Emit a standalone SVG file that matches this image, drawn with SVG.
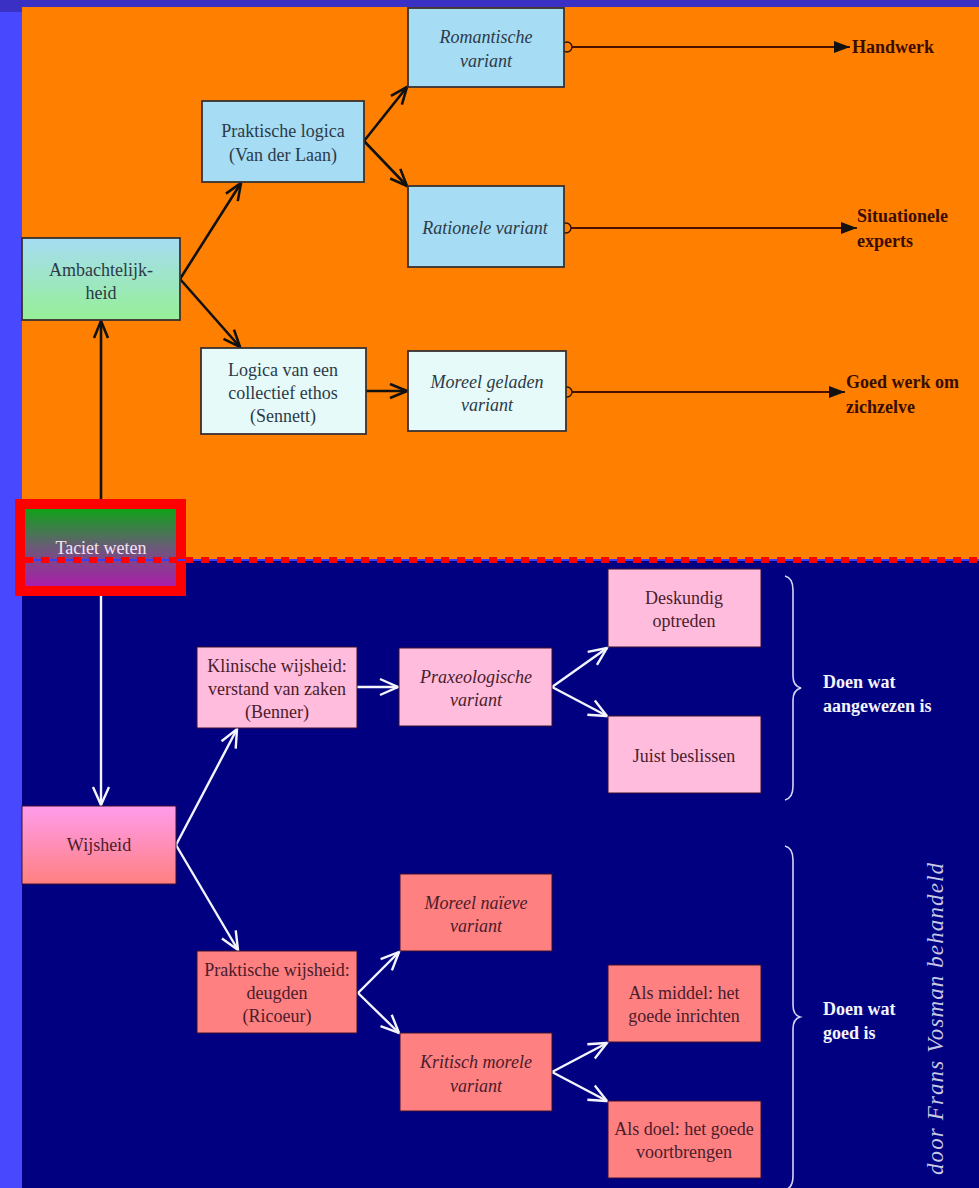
<svg xmlns="http://www.w3.org/2000/svg" width="979" height="1188" viewBox="0 0 979 1188">
<style>
.t{font-family:"Liberation Serif","Times New Roman",serif;font-size:18px;text-anchor:middle}
.it{font-style:italic}
.dk{fill:#2c3a48}
.pk{fill:#4a1c2c}
.lab{font-family:"Liberation Serif","Times New Roman",serif;font-size:18px;font-weight:bold}
.lo{fill:#3a0c00}
.lw{fill:#f4f4ff}
.bt{stroke:#3a3030;stroke-width:1.8}
.bb{stroke:#3a1030;stroke-width:1}
.ca{stroke:#111;stroke-width:2.6;fill:none;marker-end:url(#ob)}
.cw{stroke:#f4f4ff;stroke-width:2.4;fill:none;marker-end:url(#ow)}
.co{stroke:#4a1000;stroke-width:1.8;fill:none;marker-end:url(#tri)}
.dot{fill:none;stroke:#2a1000;stroke-width:1.4}
.br{fill:none;stroke:#d4d4f4;stroke-width:1.6}
</style>
<defs>
<marker id="ob" viewBox="-2 -2 22 18" refX="17" refY="7" markerWidth="22" markerHeight="18" orient="auto" markerUnits="userSpaceOnUse"><path d="M0,0 L17,7 L0,14" fill="none" stroke="#111" stroke-width="2.6" stroke-linejoin="miter"/></marker>
<marker id="ow" viewBox="-2 -2 23 20" refX="18" refY="8" markerWidth="23" markerHeight="20" orient="auto" markerUnits="userSpaceOnUse"><path d="M0,0 L18,8 L0,16" fill="none" stroke="#f4f4ff" stroke-width="2.4"/></marker>
<marker id="tri" viewBox="0 0 16 12" refX="16" refY="6" markerWidth="16" markerHeight="12" orient="auto" markerUnits="userSpaceOnUse"><path d="M0,0 L16,6 L0,12 Z" fill="#111"/></marker>
<linearGradient id="gAmb" x1="0" y1="0" x2="0" y2="1"><stop offset="0" stop-color="#a6dcf4"/><stop offset="1" stop-color="#96f096"/></linearGradient>
<linearGradient id="gTac" x1="0" y1="0" x2="0" y2="1"><stop offset="0" stop-color="#10a218"/><stop offset="0.5" stop-color="#6a5a78"/><stop offset="1" stop-color="#aa1eaa"/></linearGradient>
<linearGradient id="gWij" x1="0" y1="0" x2="0" y2="1"><stop offset="0" stop-color="#ff9cec"/><stop offset="1" stop-color="#ff8080"/></linearGradient>
</defs>
<g id="background">
<rect x="0" y="0" width="979" height="1188" fill="#4848ff"/>
<rect x="0" y="0" width="979" height="7" fill="#3a30c4"/>
<rect x="0" y="0" width="22" height="12" fill="#3a30c4"/>
<rect x="22" y="7" width="957" height="553" fill="#ff8000"/>
<rect x="22" y="560" width="957" height="628" fill="#000080"/>
</g>
<g id="connectors">
<line class="ca" x1="101" y1="499" x2="101" y2="321"/>
<line class="ca" x1="180" y1="279" x2="241" y2="183"/>
<line class="ca" x1="180" y1="279" x2="240" y2="347"/>
<line class="ca" x1="364" y1="141" x2="407" y2="87"/>
<line class="ca" x1="364" y1="141" x2="407" y2="186"/>
<line class="ca" x1="366" y1="391" x2="407" y2="391"/>
<line class="co" x1="572" y1="47" x2="850" y2="47"/>
<circle class="dot" cx="567" cy="47" r="5"/>
<line class="co" x1="571" y1="228" x2="857" y2="228"/>
<circle class="dot" cx="566" cy="228" r="5"/>
<line class="co" x1="572" y1="392" x2="845" y2="392"/>
<circle class="dot" cx="567" cy="392" r="5"/>
<line class="cw" x1="101" y1="596" x2="101" y2="805"/>
<line class="cw" x1="176" y1="845" x2="237" y2="729"/>
<line class="cw" x1="176" y1="845" x2="238" y2="950"/>
<line class="cw" x1="357" y1="687" x2="398" y2="687"/>
<line class="cw" x1="552" y1="687" x2="607" y2="648"/>
<line class="cw" x1="552" y1="687" x2="607" y2="716"/>
<line class="cw" x1="358" y1="993" x2="399" y2="952"/>
<line class="cw" x1="358" y1="993" x2="399" y2="1033"/>
<line class="cw" x1="552" y1="1072" x2="607" y2="1043"/>
<line class="cw" x1="552" y1="1072" x2="607" y2="1101"/>
</g>
<g id="ambachtelijkheid">
<rect class="bt" x="22" y="238" width="158" height="82" fill="url(#gAmb)"/>
<text class="t dk" x="101" y="276">Ambachtelijk-</text>
<text class="t dk" x="101" y="299">heid</text>
</g>
<g id="praktische-logica">
<rect class="bt" x="202" y="101" width="162" height="81" fill="#a6dcf4"/>
<text class="t dk" x="283" y="137">Praktische logica</text>
<text class="t dk" x="283" y="161">(Van der Laan)</text>
</g>
<g id="romantische">
<rect class="bt" x="408" y="8" width="156" height="79" fill="#a6dcf4"/>
<text class="t it dk" x="486" y="43">Romantische</text>
<text class="t it dk" x="486" y="67">variant</text>
</g>
<g id="rationele">
<rect class="bt" x="408" y="186" width="156" height="81" fill="#a6dcf4"/>
<text class="t it dk" x="485" y="234">Rationele variant</text>
</g>
<g id="logica-collectief">
<rect class="bt" x="201" y="348" width="165" height="86" fill="#e6fafa"/>
<text class="t dk" x="283" y="376">Logica van een</text>
<text class="t dk" x="283" y="399">collectief ethos</text>
<text class="t dk" x="283" y="422">(Sennett)</text>
</g>
<g id="moreel-geladen">
<rect class="bt" x="408" y="351" width="158" height="80" fill="#e6fafa"/>
<text class="t it dk" x="487" y="388">Moreel geladen</text>
<text class="t it dk" x="487" y="411">variant</text>
</g>
<g id="handwerk"><text class="lab lo" x="852" y="53">Handwerk</text></g>
<g id="situationele-experts">
<text class="lab lo" x="857" y="222">Situationele</text>
<text class="lab lo" x="857" y="247">experts</text>
</g>
<g id="goed-werk">
<text class="lab lo" x="846" y="388">Goed werk om</text>
<text class="lab lo" x="846" y="413">zichzelve</text>
</g>
<g id="taciet-weten">
<rect x="25" y="509" width="151" height="77" fill="url(#gTac)"/>
<text class="t" x="101" y="554" fill="#f4e4f4">Taciet weten</text>
<rect x="20" y="504" width="161" height="87" fill="none" stroke="#ff0000" stroke-width="10"/>
</g>
<g id="divider">
<line x1="25" y1="560" x2="979" y2="560" stroke="#3c3cff" stroke-width="2"/>
<line x1="25" y1="560" x2="979" y2="560" stroke="#ff0000" stroke-width="6" stroke-dasharray="8 8"/>
</g>
<g id="wijsheid">
<rect class="bb" x="22" y="806" width="154" height="78" fill="url(#gWij)"/>
<text class="t pk" x="99" y="851">Wijsheid</text>
</g>
<g id="klinische-wijsheid">
<rect class="bb" x="197" y="647" width="160" height="81" fill="#ffbcdc"/>
<text class="t pk" x="277" y="672">Klinische wijsheid:</text>
<text class="t pk" x="277" y="695">verstand van zaken</text>
<text class="t pk" x="277" y="718">(Benner)</text>
</g>
<g id="praxeologische">
<rect class="bb" x="399" y="648" width="153" height="78" fill="#ffbcdc"/>
<text class="t it pk" x="476" y="683">Praxeologische</text>
<text class="t it pk" x="476" y="706">variant</text>
</g>
<g id="deskundig">
<rect class="bb" x="608" y="569" width="153" height="78" fill="#ffbcdc"/>
<text class="t pk" x="684" y="604">Deskundig</text>
<text class="t pk" x="684" y="627">optreden</text>
</g>
<g id="juist">
<rect class="bb" x="608" y="716" width="153" height="77" fill="#ffbcdc"/>
<text class="t pk" x="684" y="762">Juist beslissen</text>
</g>
<g id="moreel-naieve">
<rect class="bb" x="400" y="874" width="152" height="77" fill="#ff8080"/>
<text class="t it pk" x="476" y="909">Moreel naïeve</text>
<text class="t it pk" x="476" y="932">variant</text>
</g>
<g id="praktische-wijsheid">
<rect class="bb" x="197" y="951" width="160" height="82" fill="#ff8080"/>
<text class="t pk" x="277" y="976">Praktische wijsheid:</text>
<text class="t pk" x="277" y="999">deugden</text>
<text class="t pk" x="277" y="1022">(Ricoeur)</text>
</g>
<g id="kritisch-morele">
<rect class="bb" x="400" y="1033" width="152" height="78" fill="#ff8080"/>
<text class="t it pk" x="476" y="1068">Kritisch morele</text>
<text class="t it pk" x="476" y="1092">variant</text>
</g>
<g id="als-middel">
<rect class="bb" x="608" y="965" width="153" height="77" fill="#ff8080"/>
<text class="t pk" x="684" y="999">Als middel: het</text>
<text class="t pk" x="684" y="1022">goede inrichten</text>
</g>
<g id="als-doel">
<rect class="bb" x="608" y="1101" width="153" height="77" fill="#ff8080"/>
<text class="t pk" x="684" y="1135">Als doel: het goede</text>
<text class="t pk" x="684" y="1158">voortbrengen</text>
</g>
<g id="brace-aangewezen">
<path class="br" d="M785,576 Q793,578 793,590 L793,676 Q793,686 801,688 Q793,690 793,700 L793,786 Q793,798 785,800"/>
<text class="lab lw" x="823" y="688">Doen wat</text>
<text class="lab lw" x="823" y="712">aangewezen is</text>
</g>
<g id="brace-goed">
<path class="br" d="M785,846 Q793,848 793,860 L793,1005 Q793,1015 800,1017 Q793,1019 793,1029 L793,1176 Q793,1188 785,1190"/>
<text class="lab lw" x="823" y="1015">Doen wat</text>
<text class="lab lw" x="823" y="1039">goed is</text>
</g>
<g id="credit">
<text transform="translate(943,1019) rotate(-90)" font-family="'Liberation Serif','Times New Roman',serif" font-style="italic" font-size="23" fill="#c8c8e4" text-anchor="middle" textLength="312" lengthAdjust="spacing">door Frans Vosman behandeld</text>
</g>
</svg>
